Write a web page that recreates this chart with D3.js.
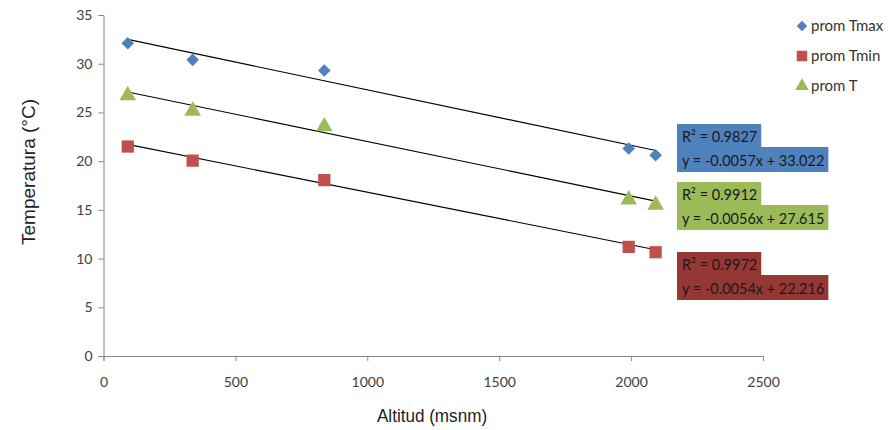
<!DOCTYPE html>
<html><head><meta charset="utf-8">
<script src="https://cdn.jsdelivr.net/npm/d3@7"></script>
<style>
body{margin:0;background:#fff;}
svg{display:block;font-family:Lato,"Open Sans",sans-serif;}
</style></head>
<body><svg id="c" width="889" height="430"></svg>
<script>
const altitudes = [92, 338, 837, 1991, 2093];
const tmaxValues = [32.1, 30.4, 29.3, 21.3, 20.6];
const tminValues = [21.5, 20.05, 18.05, 11.2, 10.65];
const tValues = [26.75, 25.15, 23.55, 16.05, 15.5];
const seriesNames = ["prom Tmax", "prom Tmin", "prom T"];
const slopes = [-0.0057, -0.0054, -0.0056];
const intercepts = [33.022, 22.216, 27.615];
const r2Labels = ["R\u00b2 = 0.9827", "R\u00b2 = 0.9972", "R\u00b2 = 0.9912"];
const eqLabels = ["y = -0.0057x + 33.022", "y = -0.0054x + 22.216", "y = -0.0056x + 27.615"];
const xTicks = [0, 500, 1000, 1500, 2000, 2500];
const yTicks = [0, 5, 10, 15, 20, 25, 30, 35];

const colors = ["#4f81bd", "#c0504d", "#9bbb59"];
const boxColors = ["#4f81bd", "#953735", "#9bbb59"];
const symbols = [d3.symbolSquare, d3.symbolSquare, d3.symbolTriangle];
const rotations = [45, 0, 0];
const symSizes = [80, 150, 120];
const values = [tmaxValues, tminValues, tValues];

const svg = d3.select("#c");
const x = d3.scaleLinear().domain([0, 2500]).range([103.5, 763]);
const y = d3.scaleLinear().domain([0, 35]).range([356, 15]);

// axes
const ax = svg.append("g").attr("transform", "translate(0,356)")
  .call(d3.axisBottom(x).tickValues(xTicks).tickFormat(d3.format("d")).tickSize(5).tickPadding(16));
const ay = svg.append("g").attr("transform", "translate(103.5,0)")
  .call(d3.axisLeft(y).tickValues(yTicks).tickFormat(d3.format("d")).tickSize(5).tickPadding(6));
[ax, ay].forEach(a => {
  a.select(".domain").attr("stroke", "#868686");
  a.selectAll("line").attr("stroke", "#868686").attr("stroke-width", 1);
  a.selectAll("text").attr("fill", "#404040").style("font-size", "14px").style("font-family", "Lato, sans-serif");
});

// trendlines
values.forEach((vals, i) => {
  const x0 = d3.min(altitudes), x1 = d3.max(altitudes);
  svg.append("line")
    .attr("x1", x(x0)).attr("y1", y(slopes[i] * x0 + intercepts[i]))
    .attr("x2", x(x1)).attr("y2", y(slopes[i] * x1 + intercepts[i]))
    .attr("stroke", "#000").attr("stroke-width", 1.1);
});

// markers
values.forEach((vals, i) => {
  svg.append("g").selectAll("path").data(vals).join("path")
    .attr("d", d3.symbol().type(symbols[i]).size(symSizes[i]))
    .attr("transform", (d, j) => `translate(${x(altitudes[j])},${y(d)}) rotate(${rotations[i]})`)
    .attr("fill", colors[i]);
});

// legend (order: Tmax, Tmin, T)
const legend = svg.append("g").attr("transform", "translate(802,26)");
seriesNames.forEach((n, i) => {
  const g = legend.append("g").attr("transform", `translate(0,${i * 30})`);
  g.append("path").attr("d", d3.symbol().type(symbols[i]).size([55, 110, 80][i]))
    .attr("transform", `rotate(${rotations[i]})`).attr("fill", colors[i]);
  g.append("text").attr("x", 9).attr("y", 5).text(n)
    .attr("fill", "#333").style("font-size", "15px");
});

// equation boxes
const boxTops = [124, 252, 182];
[0, 2, 1].forEach(i => {
  const g = svg.append("g").attr("transform", `translate(677,${boxTops[i]})`);
  const r1 = g.append("rect").attr("fill", boxColors[i]);
  const r2 = g.append("rect").attr("fill", boxColors[i]);
  const t1 = g.append("text").attr("x", 5).attr("y", 18).text(r2Labels[i])
    .attr("fill", "#1a1a1a").style("font-size", "14.5px");
  const t2 = g.append("text").attr("x", 5).attr("y", 42).text(eqLabels[i])
    .attr("fill", "#1a1a1a").style("font-size", "14.5px");
  const w1 = t1.node().getComputedTextLength(), w2 = t2.node().getComputedTextLength();
  r1.attr("x", 0).attr("y", 0).attr("width", w1 + 9).attr("height", 24);
  r2.attr("x", 0).attr("y", 23).attr("width", w2 + 9).attr("height", 25);
});

// axis titles
svg.append("text").attr("transform", "translate(432,422) scale(0.9,1)").attr("text-anchor", "middle")
  .text("Altitud (msnm)").attr("fill", "#222")
  .style("font-family", "'Liberation Sans', Arial, sans-serif").style("font-size", "19px");
svg.append("text").attr("transform", "translate(35,172) rotate(-90)").attr("text-anchor", "middle")
  .text("Temperatura (\u00b0C)").attr("fill", "#222")
  .style("font-family", "'Liberation Sans', Arial, sans-serif").style("font-size", "19px");
</script></body></html>
